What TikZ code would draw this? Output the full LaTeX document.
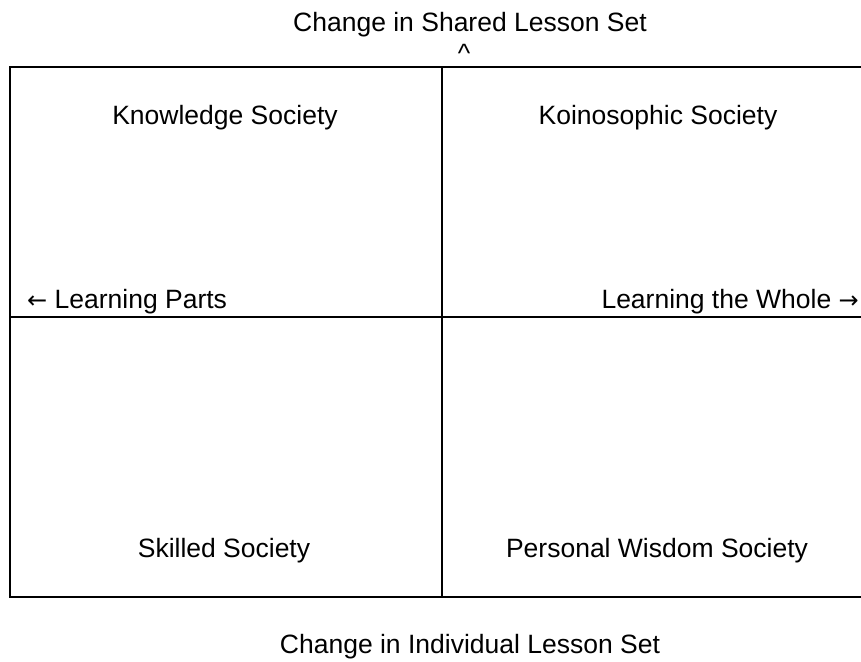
\documentclass[tikz,border=0pt]{standalone}
\usepackage{fontspec}
\setmainfont{Liberation Sans}
\newfontfamily\arrowfont{DejaVu Sans}
\newcommand{\arr}[1]{{\arrowfont\fontsize{24}{28}\selectfont #1}}
\begin{document}
\begin{tikzpicture}[x=1pt,y=-1pt,
  lbl/.style={inner sep=0pt,font=\fontsize{26.5}{30}\selectfont},
  rule/.style={line width=2pt,line cap=rect}]
\useasboundingbox (0,0) rectangle (861,661);
\fill[white] (0,0) rectangle (861,661);
% frame
\coordinate (tl) at (10,67);
\coordinate (tr) at (861,67);
\coordinate (bl) at (10,597);
\coordinate (br) at (861,597);
\coordinate (vt) at (442,67);
\coordinate (vb) at (442,597);
\coordinate (hl) at (10,317);
\coordinate (hr) at (861,317);
\draw[rule] (tr) -- (tl) -- (bl) -- (br);
\draw[rule] (vt) -- (vb);
\draw[rule] (hl) -- (hr);
% labels
\node[lbl,anchor=base] (top) at (470,32) {Change in Shared Lesson Set};
\node[lbl,anchor=base] (caret) at (464,63) {\^{}};
\node[lbl,anchor=base] (ks) at (225,124) {Knowledge Society};
\node[lbl,anchor=base] (kos) at (658,124) {Koinosophic Society};
\node[lbl,anchor=base west] (lp) at (27,308) {\arr{←} Learning Parts};
\node[lbl,anchor=base east] (lw) at (859,308) {Learning the Whole \arr{→}};
\node[lbl,anchor=base] (ss) at (224,557) {Skilled Society};
\node[lbl,anchor=base] (pws) at (657,557) {Personal Wisdom Society};
\node[lbl,anchor=base] (bot) at (470,653) {Change in Individual Lesson Set};
\end{tikzpicture}
\end{document}
